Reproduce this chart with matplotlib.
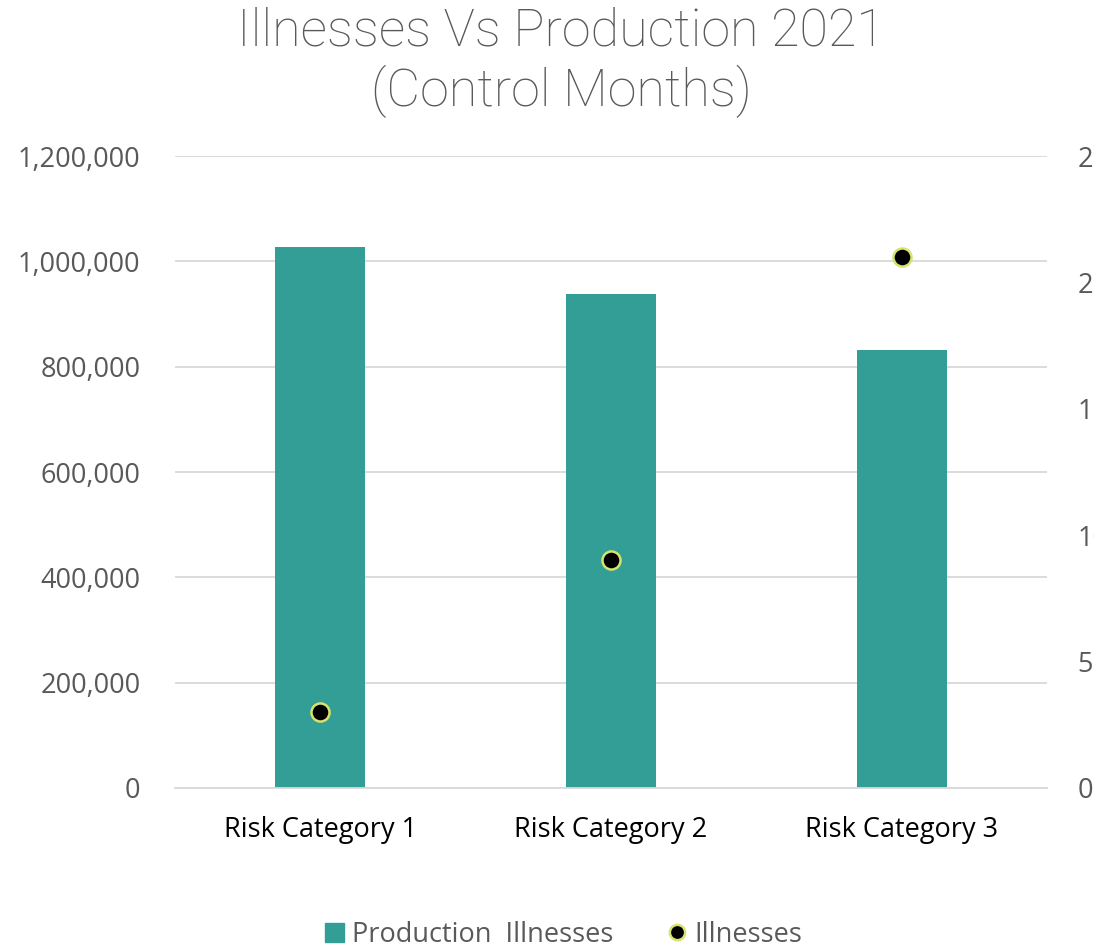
import numpy as np
import matplotlib.pyplot as plt
from matplotlib.lines import Line2D
from matplotlib.patches import Patch

categories = ["Risk Category 1", "Risk Category 2", "Risk Category 3"]
production = [1027000, 938000, 831000]
illnesses = [3, 9, 21]

bar_color = "#339E96"
text_color = "#595959"
grid_color = "#D9D9D9"

fig = plt.figure(figsize=(10.94, 9.48), dpi=100)
ax = fig.add_axes([0.16, 0.1688, 0.797, 0.6666])
ax2 = ax.twinx()

x = np.arange(len(categories))
ax.bar(x, production, width=0.31, color=bar_color, zorder=2)
ax2.plot(x, illnesses, linestyle="none", marker="o", markersize=13,
         markerfacecolor="black", markeredgecolor="#D7E36A", markeredgewidth=1.8, zorder=3)

ax.set_xlim(-0.5, 2.5)
ax.set_ylim(0, 1200000)
ax.set_yticks(np.arange(0, 1200001, 200000))
ax.set_yticklabels([f"{v:,}" for v in range(0, 1200001, 200000)])
ax2.set_ylim(0, 25)
ax2.set_yticks(range(0, 26, 5))

ax.set_xticks(x)
ax.set_xticklabels(categories, fontsize=19.5, color="black", family="Open Sans")
ax.tick_params(axis="x", length=0, pad=20)
ax.tick_params(axis="y", length=0, pad=25, labelsize=19.5, labelcolor=text_color)
ax2.tick_params(axis="y", length=0, pad=22, labelsize=19.5, labelcolor=text_color)
for lab in ax.get_yticklabels() + ax2.get_yticklabels():
    lab.set_family("Open Sans")

ax.grid(axis="y", color=grid_color, linewidth=1.3, zorder=0)
ax.set_axisbelow(True)
for a in (ax, ax2):
    for s in a.spines.values():
        s.set_visible(False)
ax.spines["bottom"].set_visible(True)
ax.spines["bottom"].set_color(grid_color)
ax.spines["bottom"].set_linewidth(1.3)

fig.text(0.513, 0.993, "Illnesses Vs Production 2021\n(Control Months)", ha="center", va="top",
         fontsize=37.5, color=text_color, family="Roboto", fontweight="light", linespacing=1.2)

handles = [Patch(color=bar_color, label="Production  Illnesses"),
           Line2D([], [], linestyle="none", marker="o", markersize=11, markerfacecolor="black",
                  markeredgecolor="#D7E36A", markeredgewidth=1.8, label="Illnesses")]
leg = fig.legend(handles=handles, loc="center", bbox_to_anchor=(0.515, 0.014), ncol=2, frameon=False,
                 fontsize=19.5, handlelength=0.7, handletextpad=0.3, columnspacing=2.0)
for t in leg.get_texts():
    t.set_color(text_color)
    t.set_family("Open Sans")

fig.savefig("out.png", dpi=100)
